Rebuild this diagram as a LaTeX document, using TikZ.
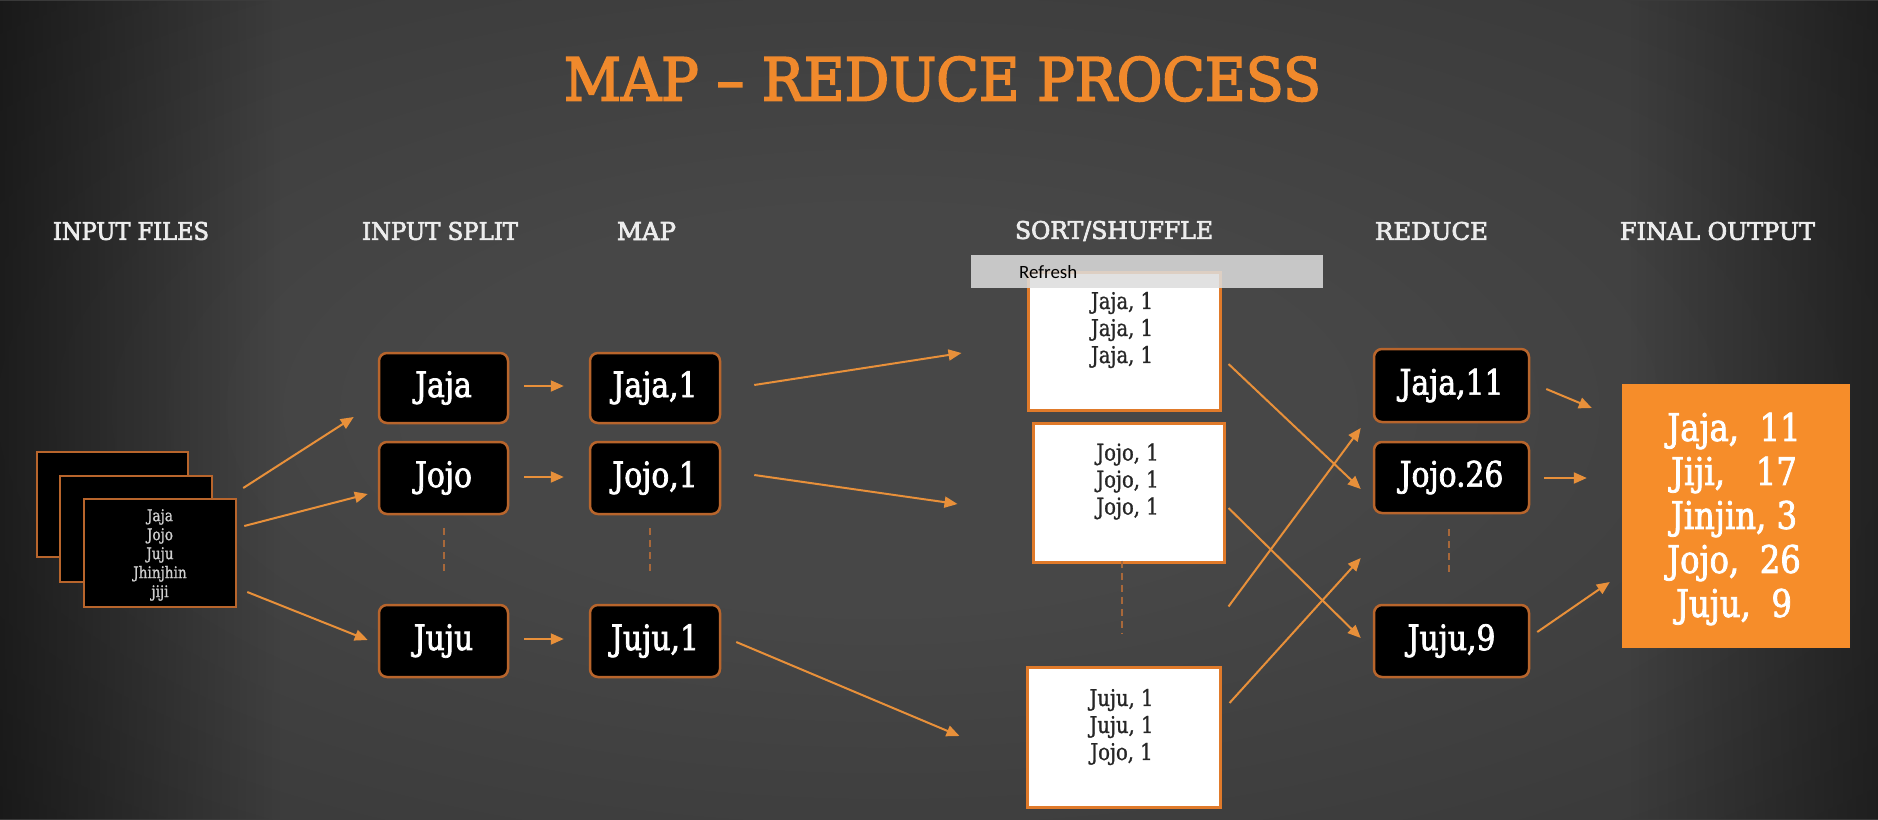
\documentclass[tikz,border=0pt]{standalone}
\usepackage{fontspec}
\usetikzlibrary{arrows.meta,fadings,calc}
\newfontfamily\boxfont[FakeStretch=0.85,FakeBold=2]{DejaVu Serif}
\newfontfamily\sortfont[FakeStretch=0.85,FakeBold=1.2]{DejaVu Serif}
\newfontfamily\titlefont[FakeBold=3]{DejaVu Serif}
\newfontfamily\headfont[FakeStretch=0.8,FakeBold=2.5]{DejaVu Serif}
\newfontfamily\uifont{Carlito}
\definecolor{bgin}{HTML}{474747}
\definecolor{bgmid}{HTML}{303030}
\definecolor{bgout}{HTML}{1A1A1A}
\definecolor{titlecol}{HTML}{F0892C}
\definecolor{headcol}{HTML}{EDEDED}
\definecolor{boxedge}{HTML}{B8652C}
\definecolor{sortedge}{HTML}{E07A2A}
\definecolor{sorttext}{HTML}{262626}
\definecolor{arrcol}{HTML}{E8903A}
\definecolor{dashcol}{HTML}{A8683A}
\definecolor{finalcol}{HTML}{F68D2A}
\definecolor{barcol}{HTML}{DDDDDD}
\definecolor{filetext}{HTML}{D0D0D0}
\pgfdeclareradialshading{bgshade}{\pgfpoint{-2bp}{0bp}}{color(0bp)=(bgin); color(12bp)=(bgin); color(48bp)=(bgmid); color(72bp)=(bgout)}
\tikzfading[name=fadeR, left color=transparent!0, right color=transparent!100]
\tikzfading[name=fadeL, left color=transparent!100, right color=transparent!0]
\tikzset{
  kbox/.style={draw=boxedge, line width=2.5pt, fill=black, rounded corners=8pt,
    text=white, font=\boxfont\fontsize{35}{40}\selectfont, inner sep=0pt,
    minimum width=129pt, minimum height=71pt},
  sbox/.style={draw=sortedge, line width=3pt, fill=white, inner sep=0pt},
  stext/.style={text=sorttext, font=\sortfont\fontsize{23}{27}\selectfont, align=center, inner sep=0pt},
  arr/.style={draw=arrcol, line width=2pt, -{Triangle[length=13pt,width=11pt]}},
  dashline/.style={draw=dashcol, line width=2pt, dash pattern=on 7pt off 5pt},
  heading/.style={text=headcol, inner sep=0pt, font=\headfont\fontsize{20}{20}\selectfont},
  sheet/.style={draw=boxedge, line width=2.5pt, fill=black, inner sep=0pt},
}
\begin{document}
\begin{tikzpicture}[x=1pt, y=-1pt]
\useasboundingbox (0,0) rectangle (1878,819);
% background
\shade[shading=bgshade] (0,0) rectangle (1878,819);
\fill[black, opacity=0.55, path fading=fadeR] (0,0) rectangle (280,819);
\fill[black, opacity=0.45, path fading=fadeL] (1630,0) rectangle (1878,819);

% title
\node[text=titlecol, inner sep=0pt, anchor=center] (title) at (942.5,79)
  {\resizebox{757pt}{44pt}{\titlefont MAP – REDUCE PROCESS}};

% headings
\node[heading] (h1) at (131,231) {\resizebox{156pt}{18pt}{INPUT FILES}};
\node[heading] (h2) at (440,231) {\resizebox{156pt}{18pt}{INPUT SPLIT}};
\node[heading] (h3) at (646.5,231) {\resizebox{59pt}{18pt}{MAP}};
\node[heading] (h4) at (1114,231) {\resizebox{198pt}{18pt}{SORT/SHUFFLE}};
\node[heading] (h5) at (1431.5,231) {\resizebox{113pt}{18pt}{REDUCE}};
\node[heading] (h6) at (1717.5,231) {\resizebox{195pt}{18pt}{FINAL OUTPUT}};

% input files
\node[sheet, minimum width=151pt, minimum height=105pt] (back) at (112.5,504.5) {};
\node[sheet, minimum width=152pt, minimum height=106pt] (mid) at (136,529) {};
\node[sheet, minimum width=152pt, minimum height=108pt] (front) at (160,553) {};
\node[text=filetext, font=\sortfont\fontsize{16}{19}\selectfont, align=center, inner sep=0pt]
  (ftext) at (160,555) {Jaja\\Jojo\\Juju\\Jhinjhin\\jiji};

% input split
\node[kbox, minimum height=70pt] (s1) at (443.5,388) {Jaja};
\node[kbox, minimum height=72pt] (s2) at (443.5,478) {Jojo};
\node[kbox, minimum height=72pt] (s3) at (443.5,641) {Juju};
% map
\node[kbox, minimum width=130pt, minimum height=70pt] (m1) at (655,388) {Jaja,1};
\node[kbox, minimum width=130pt, minimum height=72pt] (m2) at (655,478) {Jojo,1};
\node[kbox, minimum width=130pt, minimum height=72pt] (m3) at (655,641) {Juju,1};
% sort/shuffle
\node[sbox, minimum width=192pt, minimum height=138pt] (sort1) at (1124,341) {};
\node[sbox, minimum width=191pt, minimum height=139pt] (sort2) at (1128.5,492.5) {};
\node[sbox, minimum width=193pt, minimum height=140pt] (sort3) at (1123.5,737) {};
\node[stext] (t1) at ([shift={(-2,-11)}]sort1.center) {Jaja, 1\\Jaja, 1\\Jaja, 1};
\node[stext] (t2) at ([shift={(-1,-11)}]sort2.center) {Jojo, 1\\Jojo, 1\\Jojo, 1};
\node[stext] (t3) at ([shift={(-2,-10)}]sort3.center) {Juju, 1\\Juju, 1\\Jojo, 1};
% reduce
\node[kbox, minimum width=155pt, minimum height=73pt] (r1) at (1451.5,385.5) {Jaja,11};
\node[kbox, minimum width=155pt, minimum height=71pt] (r2) at (1451.5,477.5) {Jojo.26};
\node[kbox, minimum width=155pt, minimum height=72pt] (r3) at (1451.5,641) {Juju,9};
% final output
\node[fill=finalcol, minimum width=228pt, minimum height=264pt, inner sep=0pt] (final) at (1736,516) {};
\node[text=white, font=\boxfont\fontsize{38}{44}\selectfont, align=center, inner sep=0pt]
  (ftxt) at (1734,519) {Jaja,\ \ 11\\Jiji,\ \ \ 17\\Jinjin, 3\\Jojo,\ \ 26\\Juju,\ \ 9};

% dashed continuation lines
\draw[dashline] ([yshift=-13pt]s2.south) -- ([yshift=28pt]s3.north);
\draw[dashline] ([shift={(-5,13)}]m2.south) -- ([shift={(-5,-28)}]m3.north);
\draw[dashline] ([shift={(-3,15)}]r2.south) -- ([shift={(-3,-27)}]r3.north);
\draw[dashline] ([shift={(-1.5,-105)}]sort3.north) -- ([shift={(-1.5,-32)}]sort3.north);

% input files -> split
\draw[arr] ([shift={(6,-65)}]front.east) -- ([shift={(-24,29)}]s1.west);
\draw[arr] ([shift={(7,-27)}]front.east) -- ([shift={(-10,16)}]s2.west);
\draw[arr] ([shift={(10,39)}]front.east) -- ([shift={(-10,-1)}]s3.west);
% split -> map
\draw[arr, shorten <=15pt, shorten >=25pt] ([yshift=2pt]s1.east) -- ([yshift=2pt]m1.west);
\draw[arr, shorten <=15pt, shorten >=25pt] ([yshift=1pt]s2.east) -- ([yshift=1pt]m2.west);
\draw[arr, shorten <=15pt, shorten >=25pt] ([yshift=2pt]s3.east) -- ([yshift=2pt]m3.west);
% map -> sort
\draw[arr] ([shift={(33,-3)}]m1.east) -- ([shift={(-65,12)}]sort1.west);
\draw[arr] ([shift={(33,-3)}]m2.east) -- ([shift={(-74,11.5)}]sort2.west);
\draw[arr] ([shift={(15,1)}]m3.east) -- ([shift={(-66,-1)}]sort3.west);
% sort -> reduce
\draw[arr] ([shift={(7,23)}]sort1.east) -- ([shift={(-12,11.5)}]r2.west);
\draw[arr] ([shift={(3,15.5)}]sort2.east) -- ([shift={(-12,-3)}]r3.west);
\draw[arr] ([shift={(3,43)}]sort2.south east) -- ([shift={(-12,42.5)}]r1.west);
\draw[arr] ([shift={(8,-34)}]sort3.east) -- ([shift={(-12,-83)}]r3.west);
% reduce -> final
\draw[arr] ([shift={(16,3.5)}]r1.east) -- ([shift={(-30,-108)}]final.west);
\draw[arr] ([shift={(14,0.5)}]r2.east) -- ([shift={(-35,-38)}]final.west);
\draw[arr] ([shift={(7,-9)}]r3.east) -- ([shift={(-12,66)}]final.west);

% overlay bar
\node[fill=barcol, fill opacity=0.86, minimum width=352pt, minimum height=33pt, inner sep=0pt] (bar) at (1147,271.5) {};
\node[anchor=west, inner sep=0pt, text=black] (refresh) at (1019,272.5)
  {\resizebox{58pt}{13pt}{\uifont Refresh}};
\end{tikzpicture}
\end{document}
